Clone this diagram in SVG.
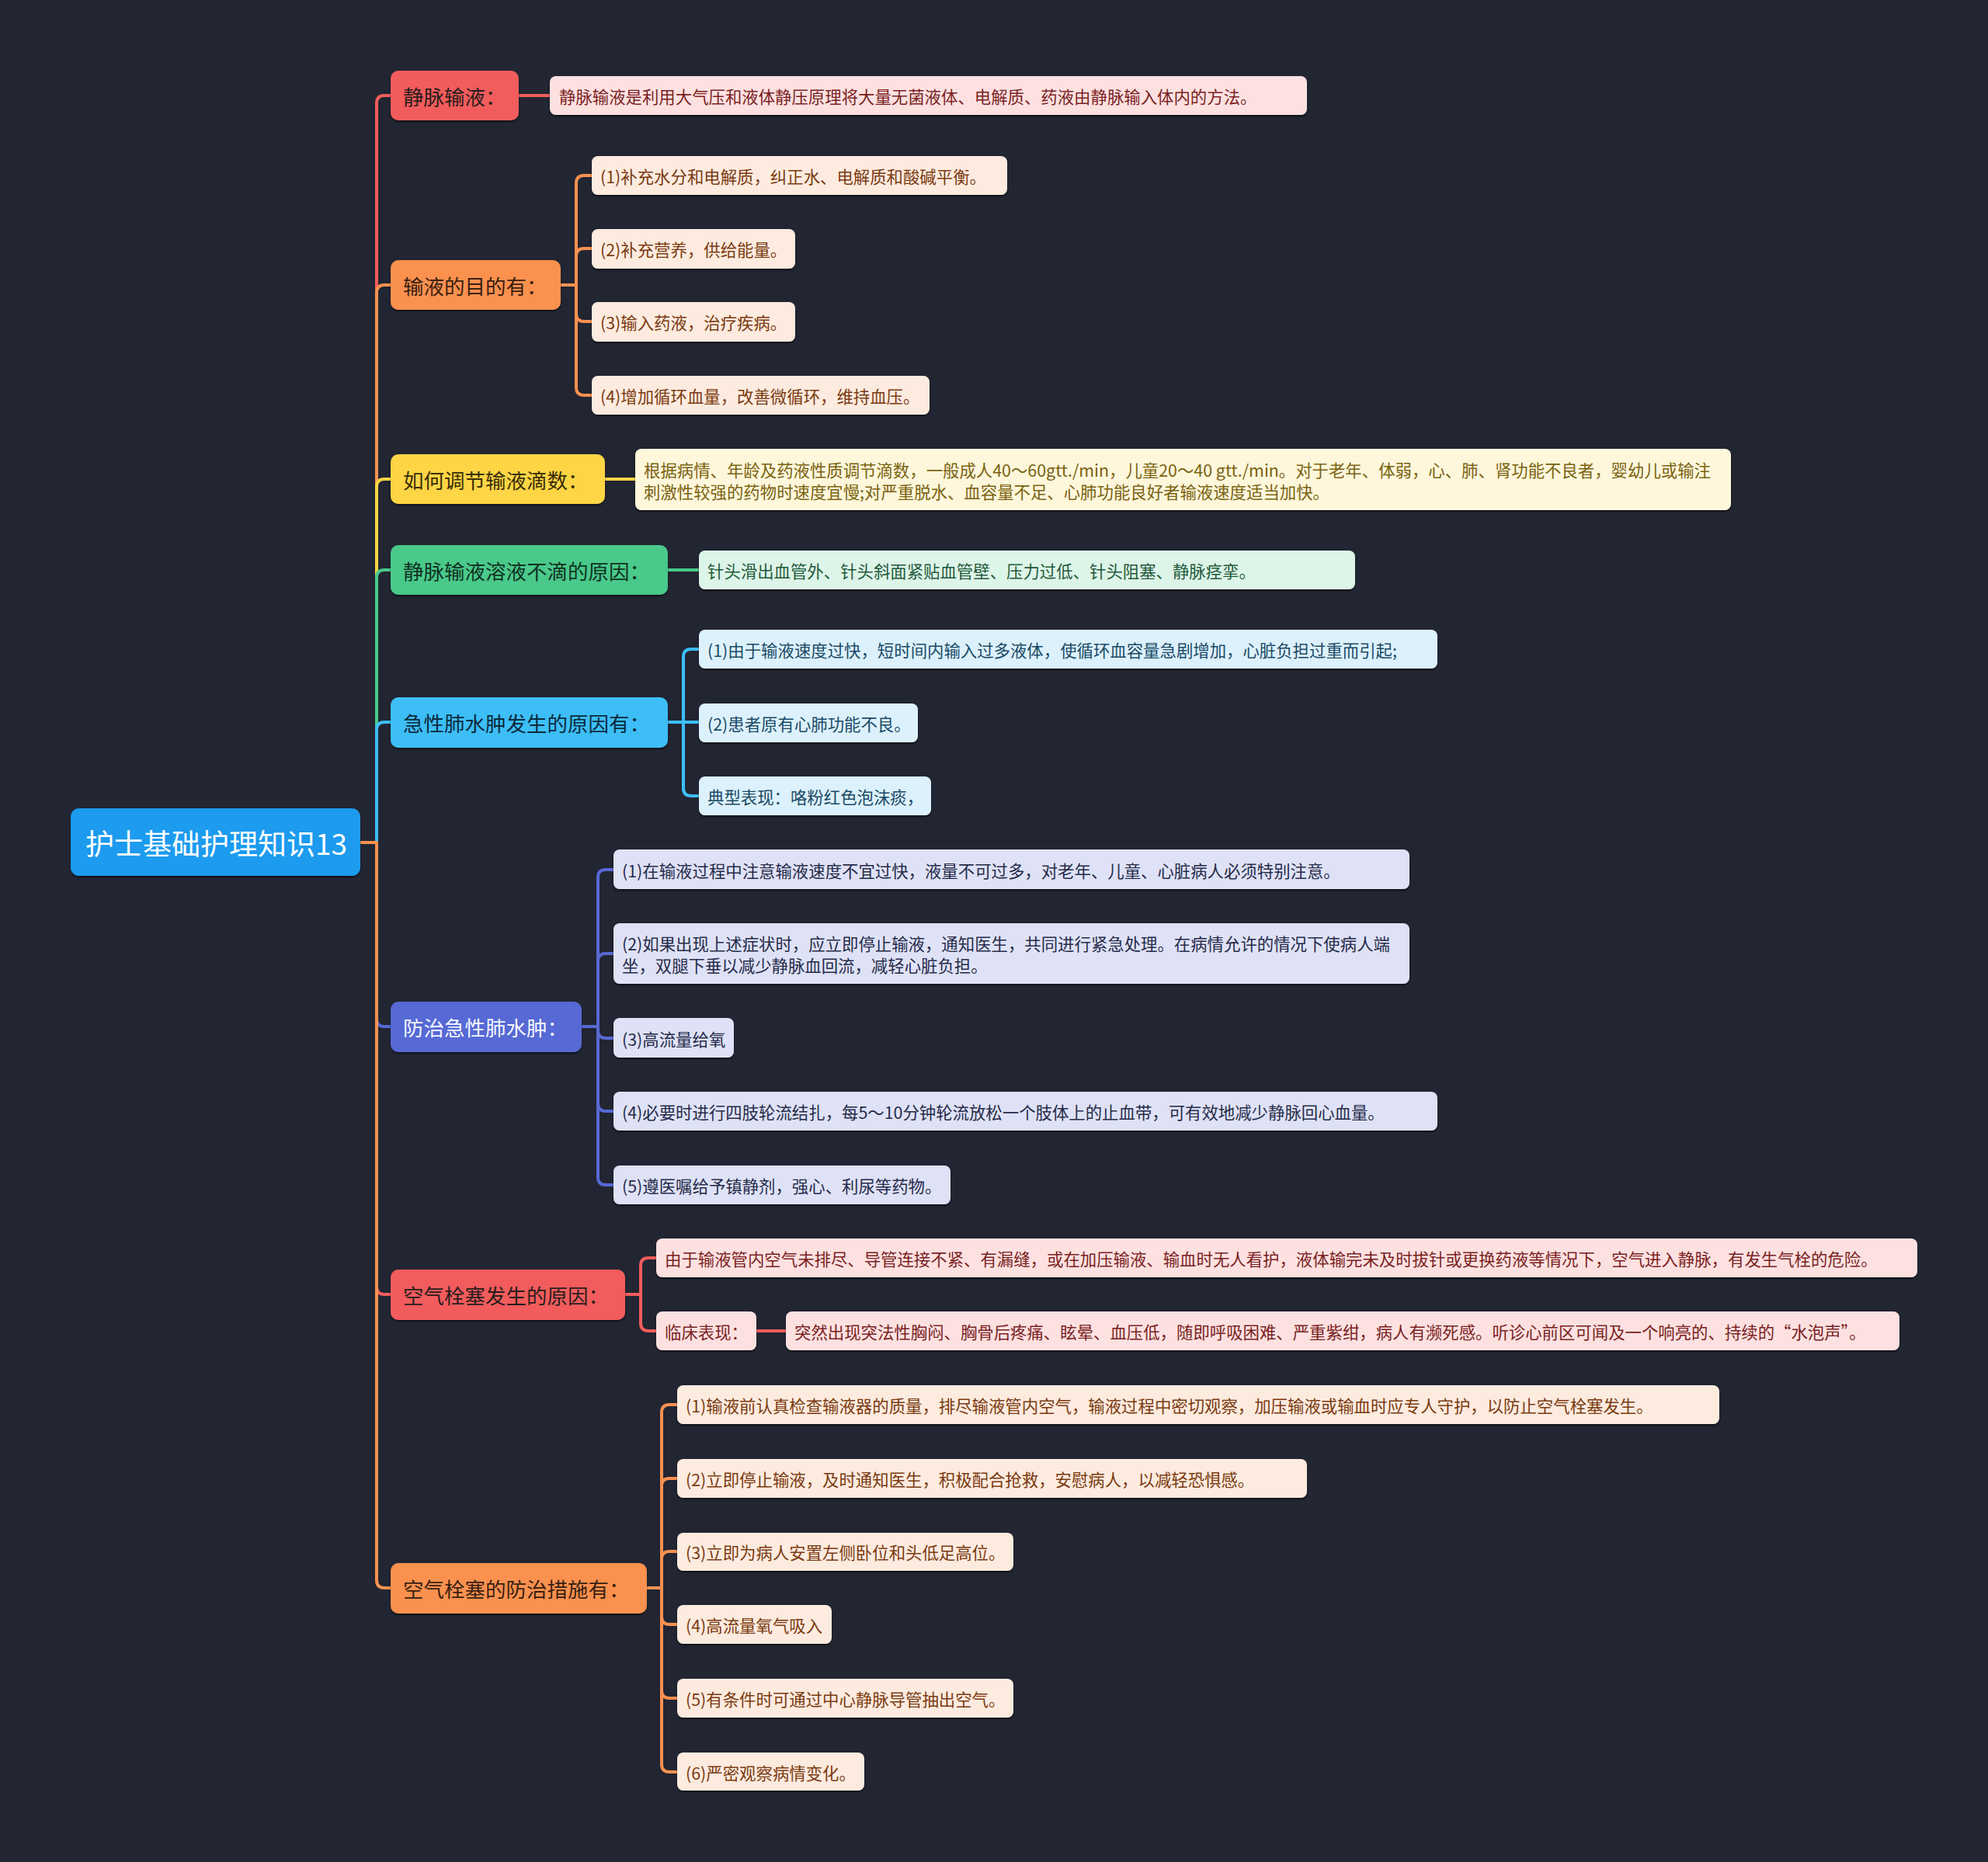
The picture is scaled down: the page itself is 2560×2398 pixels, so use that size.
<svg xmlns="http://www.w3.org/2000/svg" width="2560" height="2398" viewBox="0 0 2560 2398">
<defs>
<filter id="sh" x="-5%" y="-20%" width="110%" height="150%"><feDropShadow dx="0" dy="2" stdDeviation="1.2" flood-color="#000" flood-opacity="0.55"/></filter>
<style>
text{font-family:"Noto Sans CJK SC","Noto Sans",sans-serif;dominant-baseline:central}
.root{font-size:37px;fill:#ffffff}
.l1{font-size:26.5px}
.l2{font-size:21.4px}
.c{fill:none;stroke-width:4;stroke-linecap:round;stroke-linejoin:round}
rect{filter:url(#sh)}
.red{fill:#F25C5C}.ora{fill:#FA9150}.yel{fill:#FDD545}.gre{fill:#48C98A}.blu{fill:#3DBEF7}.ind{fill:#5669D4}
.sred{stroke:#F25C5C}.sora{stroke:#FA9150}.syel{stroke:#FDD545}.sgre{stroke:#48C98A}.sblu{stroke:#3DBEF7}.sind{stroke:#5669D4}
.bred{fill:#FDE1E1}.bora{fill:#FDEBDF}.byel{fill:#FEF7DB}.bgre{fill:#DDF4E8}.bblu{fill:#DCF1FC}.bind{fill:#DFE2F6}
.tred{fill:#7A1F1F}.tora{fill:#7A3A10}.tyel{fill:#7A6210}.tgre{fill:#1F5A3A}.tblu{fill:#1A4A66}.tind{fill:#262B4A}
.dk{fill:#2A1D1D}
</style>
</defs>
<rect x="0" y="0" width="2560" height="2398" fill="#222532" style="filter:none"/>

<g id="connectors">
<path class="c sred" d="M464,1085 H485 V133 Q485,123 495,123 H503"/>
<path class="c sora" d="M464,1085 H485 V377 Q485,367 495,367 H503"/>
<path class="c syel" d="M464,1085 H485 V627 Q485,617 495,617 H503"/>
<path class="c sgre" d="M464,1085 H485 V744 Q485,734 495,734 H503"/>
<path class="c sblu" d="M464,1085 H485 V940 Q485,930 495,930 H503"/>
<path class="c sind" d="M464,1085 H485 V1312 Q485,1322 495,1322 H503"/>
<path class="c sred" d="M464,1085 H485 V1657 Q485,1667 495,1667 H503"/>
<path class="c sora" d="M464,1085 H485 V2035 Q485,2045 495,2045 H503"/>

<path class="c sred" d="M668,123 H708"/>

<path class="c sora" d="M722,367 H742 V236 Q742,226 752,226 H762"/>
<path class="c sora" d="M722,367 H742 V330 Q742,320 752,320 H762"/>
<path class="c sora" d="M722,367 H742 V404 Q742,414 752,414 H762"/>
<path class="c sora" d="M722,367 H742 V499 Q742,509 752,509 H762"/>

<path class="c syel" d="M779,617 H818"/>
<path class="c sgre" d="M860,734 H900"/>

<path class="c sblu" d="M860,930 H880 V846 Q880,836 890,836 H900"/>
<path class="c sblu" d="M860,930 H900"/>
<path class="c sblu" d="M860,930 H880 V1015 Q880,1025 890,1025 H900"/>

<path class="c sind" d="M749,1322 H770 V1130 Q770,1120 780,1120 H790"/>
<path class="c sind" d="M749,1322 H770 V1238 Q770,1228 780,1228 H790"/>
<path class="c sind" d="M749,1322 H770 V1327 Q770,1337 780,1337 H790"/>
<path class="c sind" d="M749,1322 H770 V1421 Q770,1431 780,1431 H790"/>
<path class="c sind" d="M749,1322 H770 V1516 Q770,1526 780,1526 H790"/>

<path class="c sred" d="M805,1667 H825 V1630 Q825,1620 835,1620 H845"/>
<path class="c sred" d="M805,1667 H825 V1704 Q825,1714 835,1714 H845"/>
<path class="c sred" d="M974,1714 H1012"/>

<path class="c sora" d="M833,2045 H852 V1819 Q852,1809 862,1809 H872"/>
<path class="c sora" d="M833,2045 H852 V1914 Q852,1904 862,1904 H872"/>
<path class="c sora" d="M833,2045 H852 V2008 Q852,1998 862,1998 H872"/>
<path class="c sora" d="M833,2045 H852 V2082 Q852,2092 862,2092 H872"/>
<path class="c sora" d="M833,2045 H852 V2177 Q852,2187 862,2187 H872"/>
<path class="c sora" d="M833,2045 H852 V2272 Q852,2282 862,2282 H872"/>
</g>

<g id="root">
<rect x="91" y="1041" width="373" height="87" rx="11" fill="#1E9BEF"/>
<text class="root" x="110" y="1085">护士基础护理知识13</text>
</g>

<g id="n1">
<rect class="red" x="503" y="91" width="165" height="64" rx="10"/>
<text class="l1 dk" x="519" y="123">静脉输液：</text>
</g>
<g id="n1-1">
<rect class="bred" x="708" y="98" width="975" height="50" rx="8"/>
<text class="l2 tred" x="720" y="123">静脉输液是利用大气压和液体静压原理将大量无菌液体、电解质、药液由静脉输入体内的方法。</text>
</g>

<g id="n2">
<rect class="ora" x="503" y="335" width="219" height="64" rx="10"/>
<text class="l1" fill="#3A2010" x="519" y="367">输液的目的有：</text>
</g>
<g id="n2-1">
<rect class="bora" x="762" y="201" width="535" height="50" rx="8"/>
<text class="l2 tora" x="773" y="226">(1)补充水分和电解质，纠正水、电解质和酸碱平衡。</text>
</g>
<g id="n2-2">
<rect class="bora" x="762" y="295" width="262" height="51" rx="8"/>
<text class="l2 tora" x="773" y="320">(2)补充营养，供给能量。</text>
</g>
<g id="n2-3">
<rect class="bora" x="762" y="389" width="262" height="51" rx="8"/>
<text class="l2 tora" x="773" y="414">(3)输入药液，治疗疾病。</text>
</g>
<g id="n2-4">
<rect class="bora" x="762" y="484" width="435" height="50" rx="8"/>
<text class="l2 tora" x="773" y="509">(4)增加循环血量，改善微循环，维持血压。</text>
</g>

<g id="n3">
<rect class="yel" x="503" y="585" width="276" height="64" rx="10"/>
<text class="l1" fill="#3A2E05" x="519" y="617">如何调节输液滴数：</text>
</g>
<g id="n3-1">
<rect class="byel" x="818" y="578" width="1411" height="79" rx="8"/>
<text class="l2 tyel" x="829" y="604">根据病情、年龄及药液性质调节滴数，一般成人40～60gtt./min，儿童20～40 gtt./min。对于老年、体弱，心、肺、肾功能不良者，婴幼儿或输注</text>
<text class="l2 tyel" x="829" y="632">刺激性较强的药物时速度宜慢;对严重脱水、血容量不足、心肺功能良好者输液速度适当加快。</text>
</g>

<g id="n4">
<rect class="gre" x="503" y="702" width="357" height="64" rx="10"/>
<text class="l1" fill="#0F3322" x="519" y="734">静脉输液溶液不滴的原因：</text>
</g>
<g id="n4-1">
<rect class="bgre" x="900" y="709" width="845" height="50" rx="8"/>
<text class="l2 tgre" x="911" y="734">针头滑出血管外、针头斜面紧贴血管壁、压力过低、针头阻塞、静脉痉挛。</text>
</g>

<g id="n5">
<rect class="blu" x="503" y="898" width="357" height="65" rx="10"/>
<text class="l1" fill="#0B2A3D" x="519" y="930">急性肺水肿发生的原因有：</text>
</g>
<g id="n5-1">
<rect class="bblu" x="900" y="811" width="951" height="50" rx="8"/>
<text class="l2 tblu" x="911" y="836">(1)由于输液速度过快，短时间内输入过多液体，使循环血容量急剧增加，心脏负担过重而引起;</text>
</g>
<g id="n5-2">
<rect class="bblu" x="900" y="906" width="282" height="50" rx="8"/>
<text class="l2 tblu" x="911" y="931">(2)患者原有心肺功能不良。</text>
</g>
<g id="n5-3">
<rect class="bblu" x="900" y="1000" width="299" height="50" rx="8"/>
<text class="l2 tblu" x="911" y="1025">典型表现：咯粉红色泡沫痰，</text>
</g>

<g id="n6">
<rect class="ind" x="503" y="1290" width="246" height="65" rx="10"/>
<text class="l1" fill="#F4F6FF" x="519" y="1322">防治急性肺水肿：</text>
</g>
<g id="n6-1">
<rect class="bind" x="790" y="1094" width="1025" height="51" rx="8"/>
<text class="l2 tind" x="801" y="1120">(1)在输液过程中注意输液速度不宜过快，液量不可过多，对老年、儿童、心脏病人必须特别注意。</text>
</g>
<g id="n6-2">
<rect class="bind" x="790" y="1189" width="1025" height="78" rx="8"/>
<text class="l2 tind" x="801" y="1214">(2)如果出现上述症状时，应立即停止输液，通知医生，共同进行紧急处理。在病情允许的情况下使病人端</text>
<text class="l2 tind" x="801" y="1242">坐，双腿下垂以减少静脉血回流，减轻心脏负担。</text>
</g>
<g id="n6-3">
<rect class="bind" x="790" y="1311" width="155" height="51" rx="8"/>
<text class="l2 tind" x="801" y="1337">(3)高流量给氧</text>
</g>
<g id="n6-4">
<rect class="bind" x="790" y="1406" width="1061" height="50" rx="8"/>
<text class="l2 tind" x="801" y="1431">(4)必要时进行四肢轮流结扎，每5～10分钟轮流放松一个肢体上的止血带，可有效地减少静脉回心血量。</text>
</g>
<g id="n6-5">
<rect class="bind" x="790" y="1501" width="434" height="50" rx="8"/>
<text class="l2 tind" x="801" y="1526">(5)遵医嘱给予镇静剂，强心、利尿等药物。</text>
</g>

<g id="n7">
<rect class="red" x="503" y="1635" width="302" height="65" rx="10"/>
<text class="l1 dk" x="519" y="1667">空气栓塞发生的原因：</text>
</g>
<g id="n7-1">
<rect class="bred" x="845" y="1595" width="1624" height="50" rx="8"/>
<text class="l2 tred" x="856" y="1620">由于输液管内空气未排尽、导管连接不紧、有漏缝，或在加压输液、输血时无人看护，液体输完未及时拔针或更换药液等情况下，空气进入静脉，有发生气栓的危险。</text>
</g>
<g id="n7-2">
<rect class="bred" x="845" y="1689" width="129" height="50" rx="8"/>
<text class="l2 tred" x="856" y="1714">临床表现：</text>
</g>
<g id="n7-2-1">
<rect class="bred" x="1012" y="1689" width="1434" height="50" rx="8"/>
<text class="l2 tred" x="1023" y="1714">突然出现突法性胸闷、胸骨后疼痛、眩晕、血压低，随即呼吸困难、严重紫绀，病人有濒死感。听诊心前区可闻及一个响亮的、持续的“水泡声”。</text>
</g>

<g id="n8">
<rect class="ora" x="503" y="2013" width="330" height="65" rx="10"/>
<text class="l1" fill="#3A2010" x="519" y="2045">空气栓塞的防治措施有：</text>
</g>
<g id="n8-1">
<rect class="bora" x="872" y="1784" width="1342" height="50" rx="8"/>
<text class="l2 tora" x="883" y="1809">(1)输液前认真检查输液器的质量，排尽输液管内空气，输液过程中密切观察，加压输液或输血时应专人守护，以防止空气栓塞发生。</text>
</g>
<g id="n8-2">
<rect class="bora" x="872" y="1879" width="811" height="50" rx="8"/>
<text class="l2 tora" x="883" y="1904">(2)立即停止输液，及时通知医生，积极配合抢救，安慰病人，以减轻恐惧感。</text>
</g>
<g id="n8-3">
<rect class="bora" x="872" y="1974" width="433" height="49" rx="8"/>
<text class="l2 tora" x="883" y="1998">(3)立即为病人安置左侧卧位和头低足高位。</text>
</g>
<g id="n8-4">
<rect class="bora" x="872" y="2067" width="199" height="50" rx="8"/>
<text class="l2 tora" x="883" y="2092">(4)高流量氧气吸入</text>
</g>
<g id="n8-5">
<rect class="bora" x="872" y="2162" width="433" height="50" rx="8"/>
<text class="l2 tora" x="883" y="2187">(5)有条件时可通过中心静脉导管抽出空气。</text>
</g>
<g id="n8-6">
<rect class="bora" x="872" y="2257" width="241" height="49" rx="8"/>
<text class="l2 tora" x="883" y="2282">(6)严密观察病情变化。</text>
</g>
</svg>
